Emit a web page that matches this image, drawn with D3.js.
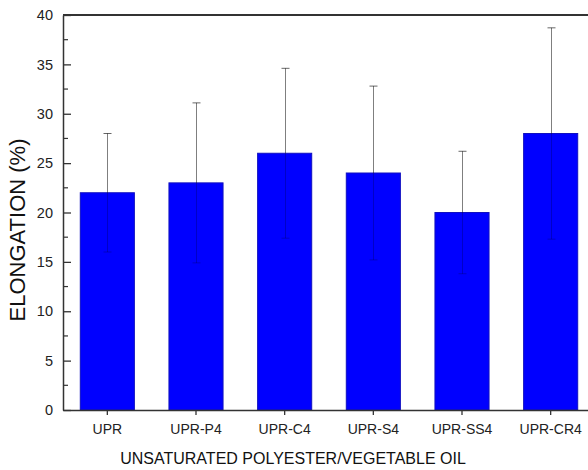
<!DOCTYPE html>
<html>
<head>
<meta charset="utf-8">
<script src="https://cdn.jsdelivr.net/npm/d3@7"></script>
<style>
  html, body { margin: 0; padding: 0; background: #fff; overflow: hidden; }
  svg { display: block; font-family: Arial, "Liberation Sans", sans-serif; }
</style>
</head>
<body>
<svg id="chart" width="588" height="470"></svg>
<script>
// Elongation at break for each resin blend, with standard deviation
const samples = ["UPR", "UPR-P4", "UPR-C4", "UPR-S4", "UPR-SS4", "UPR-CR4"];
const elongation = [22, 23, 26, 24, 20, 28];
const deviation = [6, 8.1, 8.6, 8.8, 6.2, 10.7];
const yMajorTicks = [0, 5, 10, 15, 20, 25, 30, 35, 40];
const yMinorTicks = [2.5, 7.5, 12.5, 17.5, 22.5, 27.5, 32.5, 37.5];
const xTitle = "UNSATURATED POLYESTER/VEGETABLE OIL";
const yTitle = "ELONGATION (%)";

const svg = d3.select("#chart");
const margin = { left: 63, top: 15, bottom: 60 };
const plotW = 532;               // frame runs past the right edge of the page
const plotH = 470 - margin.top - margin.bottom;

const x = d3.scaleBand()
  .domain(samples)
  .range([margin.left, margin.left + plotW])
  .paddingInner(0.39)
  .paddingOuter(0.195);

const y = d3.scaleLinear()
  .domain([0, 40])
  .range([margin.top + plotH, margin.top]);

const rows = samples.map((s, i) => ({ s, v: elongation[i], e: deviation[i] }));

// bars
svg.append("g").selectAll("rect")
  .data(rows)
  .join("rect")
  .attr("x", d => x(d.s))
  .attr("y", d => y(d.v))
  .attr("width", x.bandwidth())
  .attr("height", d => y(0) - y(d.v))
  .attr("fill", "#0000ff")
  .attr("stroke", "#1010c0")
  .attr("stroke-width", 1);

// error bars: the upper half shows grey on white, the lower half only faintly over the bar
const eb = svg.append("g").attr("stroke", "#000").attr("stroke-width", 1);
rows.forEach(d => {
  const cx = Math.round(x(d.s) + x.bandwidth() / 2) + 0.5;
  eb.append("line").attr("x1", cx).attr("x2", cx)
    .attr("y1", y(d.v)).attr("y2", y(d.v + d.e)).attr("stroke-opacity", 0.5);
  eb.append("line").attr("x1", cx).attr("x2", cx)
    .attr("y1", y(d.v - d.e)).attr("y2", y(d.v)).attr("stroke-opacity", 0.22);
  eb.append("line").attr("x1", cx - 4).attr("x2", cx + 4)
    .attr("y1", y(d.v + d.e)).attr("y2", y(d.v + d.e)).attr("stroke-opacity", 0.6);
  eb.append("line").attr("x1", cx - 4).attr("x2", cx + 4)
    .attr("y1", y(d.v - d.e)).attr("y2", y(d.v - d.e)).attr("stroke-opacity", 0.22);
});

// frame: top line
svg.append("line")
  .attr("x1", margin.left).attr("x2", margin.left + plotW)
  .attr("y1", y(40)).attr("y2", y(40))
  .attr("stroke", "#333").attr("stroke-width", 2);

// y axis with inward ticks
const yAxis = svg.append("g")
  .attr("transform", `translate(${margin.left},0)`)
  .call(d3.axisLeft(y).tickValues(yMajorTicks).tickSize(-8).tickPadding(10).tickSizeOuter(0));
yAxis.select(".domain").attr("stroke", "#333").attr("stroke-width", 1.5);
yAxis.selectAll(".tick line").attr("stroke", "#333").attr("stroke-width", 1.3);
yAxis.selectAll(".tick text").attr("font-size", 14.5).attr("fill", "#222")
  .attr("font-family", "Arial, 'Liberation Sans', sans-serif");
yAxis.selectAll(".minor").data(yMinorTicks).join("line")
  .attr("class", "minor")
  .attr("x1", 0).attr("x2", 5)
  .attr("y1", d => y(d)).attr("y2", d => y(d))
  .attr("stroke", "#333").attr("stroke-width", 1.2);

// x axis with outward ticks
const xAxis = svg.append("g")
  .attr("transform", `translate(0,${y(0)})`)
  .call(d3.axisBottom(x).tickSize(5).tickPadding(9).tickSizeOuter(0));
xAxis.select(".domain").attr("stroke", "#333").attr("stroke-width", 1.5);
xAxis.selectAll(".tick line").attr("stroke", "#333").attr("stroke-width", 1.3);
xAxis.selectAll(".tick text").attr("font-size", 14).attr("fill", "#222")
  .attr("font-family", "Arial, 'Liberation Sans', sans-serif");

// axis titles
svg.append("text")
  .attr("x", 293).attr("y", 464)
  .attr("text-anchor", "middle")
  .attr("font-size", 16).attr("fill", "#111")
  .text(xTitle);

svg.append("text")
  .attr("transform", `translate(25,${230}) rotate(-90)`)
  .attr("text-anchor", "middle")
  .attr("font-size", 22).attr("fill", "#111")
  .text(yTitle);
</script>
</body>
</html>
